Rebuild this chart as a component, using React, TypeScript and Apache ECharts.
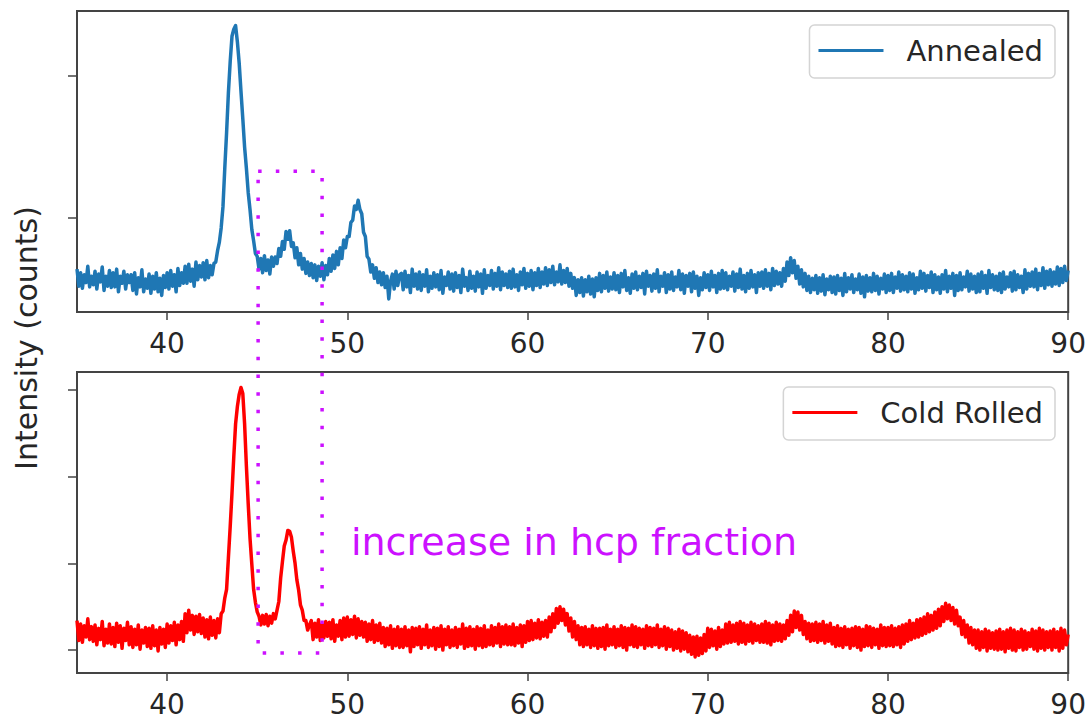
import React, { useEffect, useRef } from "react";
import * as echarts from "echarts";

// 2θ sampling: 35.0 … 90.0 in 0.1° steps (one row = one degree)
const annealed: number[] = [
  640, 520, 615, 505, 600, 545, 660, 515, 590, 530, // 35
  625, 500, 605, 550, 655, 490, 590, 520, 630, 510, // 36
  615, 515, 640, 480, 590, 540, 625, 500, 600, 545, // 37
  600, 490, 615, 465, 580, 515, 635, 480, 570, 505, // 38
  605, 470, 590, 500, 615, 480, 575, 455, 595, 510, // 39
  615, 500, 630, 520, 600, 480, 645, 525, 615, 540, // 40
  660, 540, 675, 555, 640, 520, 690, 565, 665, 585, // 41
  685, 565, 700, 580, 665, 600, 680, 690, 770, 830, // 42
  930, 1080, 1350, 1600, 1880, 2100, 2280, 2330, 2355, 2240, // 43
  2090, 1890, 1700, 1500, 1350, 1180, 1060, 920, 840, 750, // 44
  730, 640, 715, 615, 735, 630, 705, 605, 725, 660, // 45
  725, 680, 785, 730, 835, 780, 905, 850, 910, 800, // 46
  825, 720, 790, 670, 750, 640, 715, 610, 690, 595, // 47
  680, 580, 670, 560, 660, 590, 685, 565, 665, 600, // 48
  715, 625, 740, 645, 765, 670, 790, 715, 845, 790, // 49
  870, 870, 970, 985, 1085, 1060, 1125, 1060, 1030, 900, // 50
  870, 730, 710, 620, 670, 575, 650, 545, 620, 530, // 51
  615, 510, 590, 430, 555, 605, 500, 625, 525, 600, // 52
  610, 495, 625, 515, 595, 475, 640, 520, 605, 500, // 53
  620, 490, 600, 520, 635, 480, 590, 505, 615, 515, // 54
  600, 495, 630, 470, 585, 525, 620, 500, 605, 485, // 55
  615, 510, 595, 475, 640, 520, 580, 490, 625, 505, // 56
  590, 485, 620, 515, 605, 470, 635, 505, 595, 525, // 57
  630, 500, 610, 520, 650, 495, 620, 525, 605, 510, // 58
  625, 505, 640, 515, 600, 490, 620, 530, 645, 505, // 59
  610, 520, 630, 495, 615, 525, 645, 510, 620, 535, // 60
  650, 525, 635, 545, 660, 530, 620, 550, 670, 535, // 61
  630, 545, 645, 520, 610, 505, 580, 455, 565, 475, // 62
  580, 450, 565, 480, 590, 465, 570, 445, 580, 490, // 63
  610, 480, 595, 505, 620, 485, 585, 500, 615, 495, // 64
  595, 475, 610, 515, 630, 490, 580, 470, 605, 505, // 65
  620, 495, 590, 510, 610, 465, 625, 520, 595, 485, // 66
  605, 505, 635, 480, 590, 520, 615, 475, 600, 500, // 67
  620, 490, 585, 515, 630, 495, 605, 470, 595, 520, // 68
  610, 480, 620, 505, 590, 455, 580, 495, 615, 510, // 69
  600, 490, 625, 515, 595, 475, 610, 500, 630, 505, // 70
  615, 495, 590, 520, 620, 485, 605, 510, 640, 500, // 71
  595, 480, 610, 505, 630, 515, 600, 475, 615, 520, // 72
  620, 505, 635, 520, 610, 495, 645, 525, 625, 535, // 73
  615, 520, 645, 555, 690, 595, 720, 615, 700, 575, // 74
  660, 535, 635, 515, 610, 490, 590, 475, 575, 495, // 75
  595, 470, 580, 485, 600, 460, 570, 495, 590, 475, // 76
  585, 465, 595, 490, 575, 455, 610, 480, 580, 500, // 77
  600, 475, 570, 495, 605, 470, 585, 445, 595, 485, // 78
  580, 480, 610, 490, 590, 465, 575, 500, 605, 475, // 79
  595, 490, 610, 475, 585, 505, 620, 485, 600, 495, // 80
  590, 480, 615, 500, 605, 470, 580, 495, 625, 505, // 81
  610, 485, 595, 510, 620, 475, 600, 495, 585, 470, // 82
  600, 500, 630, 480, 590, 505, 610, 455, 595, 490, // 83
  615, 495, 585, 515, 625, 485, 605, 500, 590, 475, // 84
  605, 480, 620, 505, 595, 470, 630, 510, 600, 495, // 85
  590, 490, 610, 475, 620, 500, 585, 515, 615, 485, // 86
  625, 495, 600, 510, 590, 475, 635, 500, 610, 520, // 87
  620, 515, 640, 495, 610, 525, 650, 505, 625, 530, // 88
  635, 520, 620, 535, 655, 525, 645, 545, 660, 560, // 89
  630, // 90
];

const coldRolled: number[] = [
  1340, 1110, 1300, 1090, 1280, 1150, 1360, 1120, 1270, 1100, // 35
  1290, 1060, 1250, 1120, 1330, 1050, 1240, 1080, 1300, 1070, // 36
  1260, 1040, 1310, 1090, 1280, 1020, 1250, 1110, 1320, 1060, // 37
  1270, 1030, 1240, 1060, 1290, 1010, 1230, 1080, 1260, 1040, // 38
  1250, 1020, 1280, 1050, 1230, 990, 1260, 1070, 1240, 1030, // 39
  1300, 1080, 1280, 1110, 1320, 1060, 1290, 1120, 1330, 1100, // 40
  1420, 1200, 1460, 1230, 1400, 1180, 1390, 1210, 1410, 1190, // 41
  1370, 1150, 1350, 1130, 1380, 1170, 1340, 1140, 1360, 1200, // 42
  1420, 1450, 1600, 1700, 2060, 2420, 2810, 3230, 3610, 3810, // 43
  3950, 4030, 3960, 3610, 3120, 2690, 2290, 1990, 1700, 1550, // 44
  1440, 1390, 1290, 1400, 1300, 1410, 1280, 1390, 1310, 1420, // 45
  1360, 1460, 1560, 1830, 2020, 2200, 2270, 2380, 2370, 2300, // 46
  2140, 2000, 1810, 1690, 1520, 1460, 1340, 1340, 1230, 1290, // 47
  1340, 1120, 1310, 1150, 1350, 1110, 1300, 1140, 1330, 1160, // 48
  1320, 1130, 1350, 1100, 1290, 1160, 1340, 1120, 1370, 1150, // 49
  1380, 1160, 1350, 1180, 1390, 1140, 1360, 1170, 1330, 1150, // 50
  1320, 1100, 1300, 1120, 1340, 1090, 1290, 1110, 1310, 1080, // 51
  1260, 1040, 1250, 1060, 1280, 1020, 1240, 1050, 1270, 1030, // 52
  1240, 1030, 1270, 1050, 1230, 980, 1260, 1040, 1250, 1060, // 53
  1270, 1020, 1240, 1060, 1290, 1030, 1230, 1050, 1260, 1010, // 54
  1250, 1040, 1280, 1000, 1240, 1060, 1270, 1030, 1230, 1050, // 55
  1260, 1030, 1240, 1070, 1300, 1020, 1250, 1040, 1270, 1050, // 56
  1240, 1010, 1270, 1050, 1250, 1030, 1280, 1040, 1230, 1060, // 57
  1280, 1050, 1260, 1080, 1300, 1040, 1270, 1070, 1290, 1060, // 58
  1270, 1060, 1300, 1050, 1260, 1080, 1290, 1040, 1280, 1090, // 59
  1330, 1110, 1340, 1120, 1310, 1140, 1350, 1130, 1320, 1160, // 60
  1340, 1150, 1380, 1210, 1420, 1260, 1480, 1310, 1500, 1340, // 61
  1470, 1290, 1420, 1220, 1370, 1150, 1330, 1120, 1280, 1060, // 62
  1260, 1040, 1270, 1060, 1240, 1030, 1280, 1050, 1250, 1020, // 63
  1250, 1040, 1260, 1010, 1290, 1050, 1240, 1060, 1270, 1030, // 64
  1240, 1050, 1280, 1030, 1260, 1000, 1250, 1060, 1290, 1040, // 65
  1270, 1030, 1250, 1060, 1240, 1020, 1280, 1050, 1260, 1040, // 66
  1250, 1060, 1290, 1030, 1240, 1050, 1270, 1010, 1250, 1040, // 67
  1230, 1000, 1210, 1020, 1240, 990, 1220, 1010, 1200, 980, // 68
  1170, 950, 1150, 920, 1160, 940, 1140, 960, 1180, 990, // 69
  1250, 1030, 1240, 1050, 1220, 1010, 1260, 1040, 1230, 1070, // 70
  1300, 1080, 1320, 1090, 1290, 1100, 1310, 1070, 1330, 1090, // 71
  1310, 1070, 1290, 1100, 1320, 1080, 1300, 1110, 1280, 1090, // 72
  1300, 1090, 1330, 1080, 1310, 1060, 1290, 1100, 1320, 1110, // 73
  1300, 1100, 1290, 1130, 1340, 1170, 1400, 1210, 1450, 1260, // 74
  1440, 1230, 1400, 1180, 1330, 1130, 1310, 1100, 1300, 1110, // 75
  1320, 1090, 1300, 1110, 1330, 1080, 1290, 1100, 1310, 1070, // 76
  1260, 1040, 1280, 1050, 1250, 1030, 1270, 1060, 1240, 1020, // 77
  1250, 1050, 1270, 1030, 1260, 1000, 1240, 1040, 1280, 1050, // 78
  1270, 1030, 1250, 1060, 1240, 1020, 1290, 1050, 1260, 1040, // 79
  1260, 1050, 1280, 1040, 1250, 1060, 1270, 1030, 1290, 1070, // 80
  1300, 1100, 1340, 1120, 1310, 1140, 1350, 1150, 1360, 1170, // 81
  1380, 1190, 1420, 1210, 1400, 1230, 1440, 1250, 1470, 1280, // 82
  1500, 1330, 1540, 1360, 1520, 1340, 1490, 1300, 1460, 1280, // 83
  1380, 1180, 1340, 1150, 1290, 1080, 1260, 1060, 1230, 1020, // 84
  1230, 1000, 1210, 1030, 1240, 990, 1220, 1020, 1200, 1010, // 85
  1220, 1000, 1240, 1010, 1210, 980, 1230, 1020, 1250, 1000, // 86
  1230, 990, 1210, 1030, 1240, 1000, 1220, 1010, 1200, 1040, // 87
  1240, 1010, 1220, 990, 1250, 1020, 1230, 1000, 1210, 1030, // 88
  1220, 1000, 1240, 1030, 1210, 990, 1250, 1020, 1230, 1060, // 89
  1180, // 90
];

const X_START = 35;
const X_STEP = 0.1;
const X_TICKS = [40, 50, 60, 70, 80, 90];
const ANNEALED_TICKS = [1000, 2000];
const COLD_TICKS = [1000, 2000, 3000, 4000];
const ANNEALED_RANGE = [338, 2458];
const COLD_RANGE = [735, 4208];

// dotted box around the hcp peak (x in 2θ, y in each panel's own counts)
const HCP_BOX = { x0: 45.05, x1: 48.6, topCounts: 1330, bottomCounts: 965 };
const SERIES_NAMES = ["Annealed", "Cold Rolled"];
const ANNOTATION = "increase in hcp fraction";
const Y_LABEL = "Intensity (counts)";

const FONT = "DejaVu Sans";
const INK = "#262626";
const FRAME = "#444444";
const VIOLET = "#cc11ff";

function toPairs(values: number[]): [number, number][] {
  return values.map((v, i) => [Math.round((X_START + i * X_STEP) * 10) / 10, v]);
}

export default function App() {
  const ref = useRef<HTMLDivElement>(null);

  useEffect(() => {
    if (!ref.current) return;
    const chart = echarts.init(ref.current, undefined, { renderer: "svg" });

    const xAxisBase = (gridIndex: number) => ({
      type: "value" as const,
      gridIndex,
      min: 35,
      max: 90,
      splitLine: { show: false },
      axisLine: { show: true, lineStyle: { color: FRAME, width: 2 } },
      axisTick: {
        show: true,
        length: 8,
        customValues: X_TICKS,
        lineStyle: { color: FRAME, width: 1.5 },
      },
      axisLabel: {
        show: true,
        customValues: X_TICKS,
        margin: 17,
        fontSize: 28,
        fontFamily: FONT,
        color: INK,
        showMaxLabel: true,
        showMinLabel: true,
      },
    });

    const yAxisBase = (gridIndex: number, range: number[], ticks: number[]) => ({
      type: "value" as const,
      gridIndex,
      min: range[0],
      max: range[1],
      splitLine: { show: false },
      axisLine: { show: true, lineStyle: { color: FRAME, width: 2 } },
      axisTick: {
        show: true,
        length: 9,
        customValues: ticks,
        lineStyle: { color: FRAME, width: 1.5 },
      },
      axisLabel: { show: false },
    });

    const legendBase = (name: string, top: number) => ({
      data: [name],
      right: 34,
      top,
      orient: "horizontal" as const,
      selectedMode: false,
      icon: "rect",
      itemWidth: 65,
      itemHeight: 3,
      padding: [8, 12, 10, 9],
      borderColor: "#d4d4d4",
      borderWidth: 1.5,
      borderRadius: 5,
      backgroundColor: "rgba(255,255,255,0.85)",
      textStyle: {
        fontSize: 29,
        fontFamily: FONT,
        color: INK,
        lineHeight: 35,
        padding: [0, 0, 0, 18],
      },
    });

    chart.setOption({
      animation: false,
      backgroundColor: "#ffffff",
      grid: [
        { left: 77, right: 18, top: 11, height: 301, show: true, borderColor: FRAME, borderWidth: 2, backgroundColor: "transparent" },
        { left: 77, right: 18, top: 372, height: 301, show: true, borderColor: FRAME, borderWidth: 2, backgroundColor: "transparent" },
      ],
      xAxis: [xAxisBase(0), xAxisBase(1)],
      yAxis: [yAxisBase(0, ANNEALED_RANGE, ANNEALED_TICKS), yAxisBase(1, COLD_RANGE, COLD_TICKS)],
      legend: [legendBase(SERIES_NAMES[0], 25), legendBase(SERIES_NAMES[1], 387)],
      series: [
        {
          name: SERIES_NAMES[0],
          type: "line",
          xAxisIndex: 0,
          yAxisIndex: 0,
          data: toPairs(annealed),
          showSymbol: false,
          symbol: "none",
          color: "#1f77b4",
          lineStyle: { color: "#1f77b4", width: 3.5, join: "round" },
          z: 2,
        },
        {
          name: SERIES_NAMES[1],
          type: "line",
          xAxisIndex: 1,
          yAxisIndex: 1,
          data: toPairs(coldRolled),
          showSymbol: false,
          symbol: "none",
          color: "#ff0000",
          lineStyle: { color: "#ff0000", width: 3.5, join: "round" },
          z: 2,
        },
      ],
    });

    const tl = chart.convertToPixel({ xAxisIndex: 0, yAxisIndex: 0 }, [HCP_BOX.x0, HCP_BOX.topCounts]) as number[];
    const tr = chart.convertToPixel({ xAxisIndex: 0, yAxisIndex: 0 }, [HCP_BOX.x1, HCP_BOX.topCounts]) as number[];
    const bl = chart.convertToPixel({ xAxisIndex: 1, yAxisIndex: 1 }, [HCP_BOX.x0, HCP_BOX.bottomCounts]) as number[];
    const br = chart.convertToPixel({ xAxisIndex: 1, yAxisIndex: 1 }, [HCP_BOX.x1, HCP_BOX.bottomCounts]) as number[];
    const textAnchor = chart.convertToPixel({ xAxisIndex: 1, yAxisIndex: 1 }, [50.2, 2250]) as number[];

    chart.setOption({
      graphic: [
        {
          id: "ylabel",
          type: "text",
          x: 26,
          y: 338,
          rotation: Math.PI / 2,
          style: {
            text: Y_LABEL,
            fontSize: 30,
            fontFamily: FONT,
            fill: INK,
            textAlign: "center",
            textVerticalAlign: "middle",
          },
        },
        {
          id: "hcpBox",
          type: "polyline",
          z: 100,
          shape: { points: [tl, tr, br, bl, tl] },
          style: {
            fill: "none",
            stroke: VIOLET,
            lineWidth: 3.5,
            lineDash: [3.5, 14.2],
            lineCap: "butt",
          },
        },
        {
          id: "hcpText",
          type: "text",
          z: 100,
          x: textAnchor[0],
          y: textAnchor[1],
          style: {
            text: ANNOTATION,
            fontSize: 38,
            fontFamily: FONT,
            fill: VIOLET,
            textAlign: "left",
            textVerticalAlign: "middle",
          },
        },
      ],
    });

    return () => chart.dispose();
  }, []);

  return (
    <div
      ref={ref}
      style={{ position: "fixed", left: 0, top: 0, width: 1089, height: 723, background: "#fff" }}
    />
  );
}
